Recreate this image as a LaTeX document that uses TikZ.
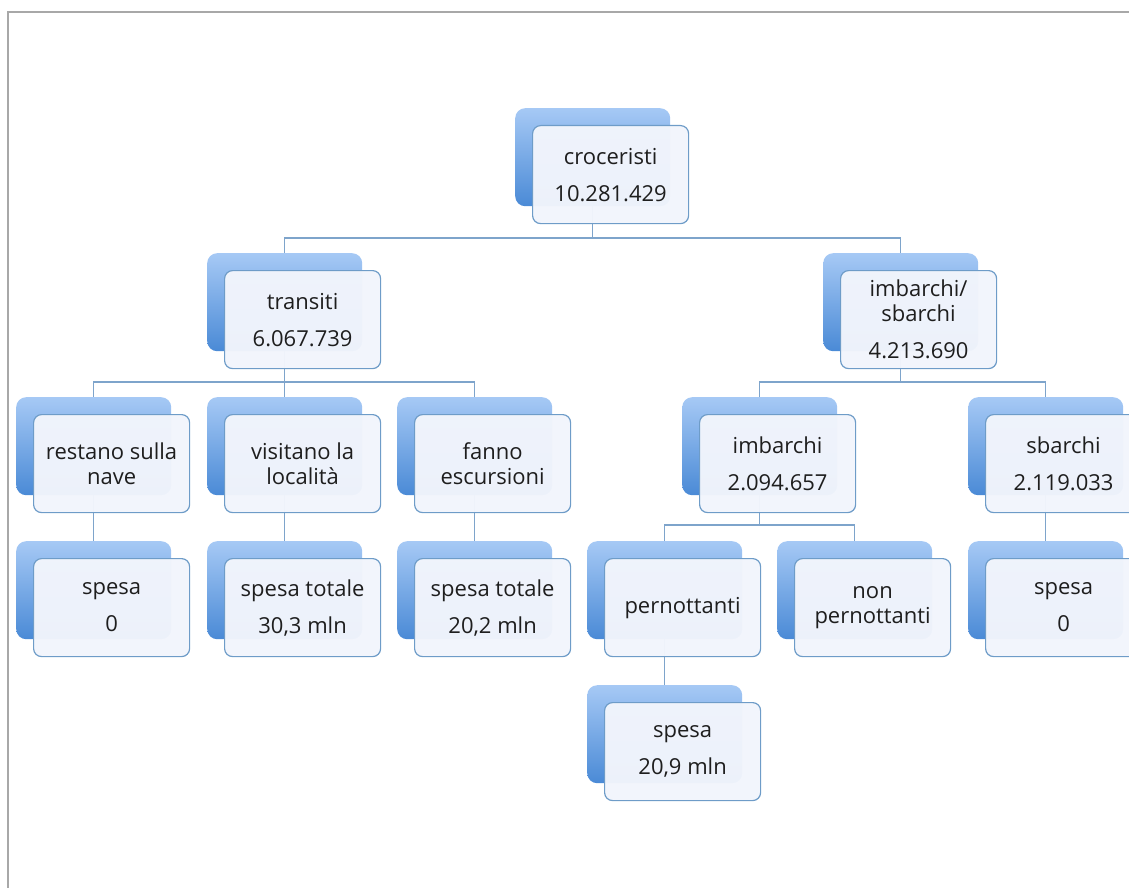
\documentclass[tikz,border=0pt]{standalone}
\usepackage{fontspec}
\setmainfont{Open Sans}
\usetikzlibrary{calc,backgrounds}
\definecolor{shtop}{HTML}{A6C9F5}
\definecolor{shbot}{HTML}{4A8AD6}
\definecolor{bord}{HTML}{6E9CC8}
\definecolor{conn}{HTML}{7EA4CB}
\definecolor{boxfill}{HTML}{F2F5FC}
\definecolor{framegray}{HTML}{A8A8A8}
\definecolor{txt}{HTML}{1E1E1E}
\newcommand\orgbox[4]{%
  \node[shadowbox, anchor=north west] (#1S) at (#2,#3) {};
  \node[whitebox, anchor=north west] (#1) at ($(#1S.north west)+(17,17)$) {#4};}
\begin{document}
\begin{tikzpicture}[x=1pt,y=-1pt,
  shadowbox/.style={rounded corners=10pt, top color=shtop, bottom color=shbot, minimum width=155pt, minimum height=98pt, inner sep=0pt, draw=none},
  whitebox/.style={rounded corners=8pt, draw=bord, line width=1.2pt, fill=boxfill, fill opacity=0.97, text opacity=1, minimum width=156pt, minimum height=98pt, align=center, text=txt, font=\fontsize{22}{25}\selectfont, inner sep=0pt},
  link/.style={draw=conn, line width=1.3pt},
  framestyle/.style={draw=framegray, line width=1.5pt}]
\path[use as bounding box] (0,0) rectangle (1129,888);
\clip (0,0) rectangle (1129,888);
\coordinate (fbl) at (8,888);
\coordinate (ftl) at (8,12);
\coordinate (ftr) at (1129,12);
\draw[framestyle] (fbl) -- (ftl) -- (ftr);

\orgbox{root}{515}{108}{croceristi\\[12pt]10.281.429}
\orgbox{trans}{207}{253}{transiti\\[12pt]6.067.739}
\orgbox{imsb}{823}{253}{imbarchi/\\sbarchi\\[12pt]4.213.690}
\orgbox{rest}{16}{397}{restano sulla\\nave}
\orgbox{visit}{207}{397}{visitano la\\località}
\orgbox{fanno}{397}{397}{fanno\\escursioni}
\orgbox{imb}{682}{397}{imbarchi\\[12pt]2.094.657}
\orgbox{sbar}{968}{397}{sbarchi\\[12pt]2.119.033}
\orgbox{spa}{16}{541}{spesa\\[12pt]0}
\orgbox{spb}{207}{541}{spesa totale\\[12pt]30,3 mln}
\orgbox{spc}{397}{541}{spesa totale\\[12pt]20,2 mln}
\orgbox{pern}{587}{541}{pernottanti}
\orgbox{nonp}{777}{541}{non\\pernottanti}
\orgbox{spe}{968}{541}{spesa\\[12pt]0}
\orgbox{spd}{587}{685}{spesa\\[12pt]20,9 mln}

\coordinate (busA) at (0,238);
\coordinate (busB) at (0,382);
\coordinate (busC) at (0,525);
\begin{scope}[on background layer]
\draw[link] (rootS.south) -- (rootS.south |- busA) -| (transS.north);
\draw[link] (rootS.south |- busA) -| (imsbS.north);
\draw[link] (transS.south) -- (transS.south |- busB) -| (restS.north);
\draw[link] (transS.south |- busB) -| (fannoS.north);
\draw[link] (transS.south) -- (visitS.north);
\draw[link] (imsbS.south) -- (imsbS.south |- busB) -| (imbS.north);
\draw[link] (imsbS.south |- busB) -| (sbarS.north);
\draw[link] (restS.south) -- (spaS.north);
\draw[link] (visitS.south) -- (spbS.north);
\draw[link] (fannoS.south) -- (spcS.north);
\draw[link] (sbarS.south) -- (speS.north);
\draw[link] (imbS.south) -- (imbS.south |- busC) -| (pernS.north);
\draw[link] (imbS.south |- busC) -| (nonpS.north);
\draw[link] (pernS.south) -- (spdS.north);
\end{scope}
\end{tikzpicture}
\end{document}
